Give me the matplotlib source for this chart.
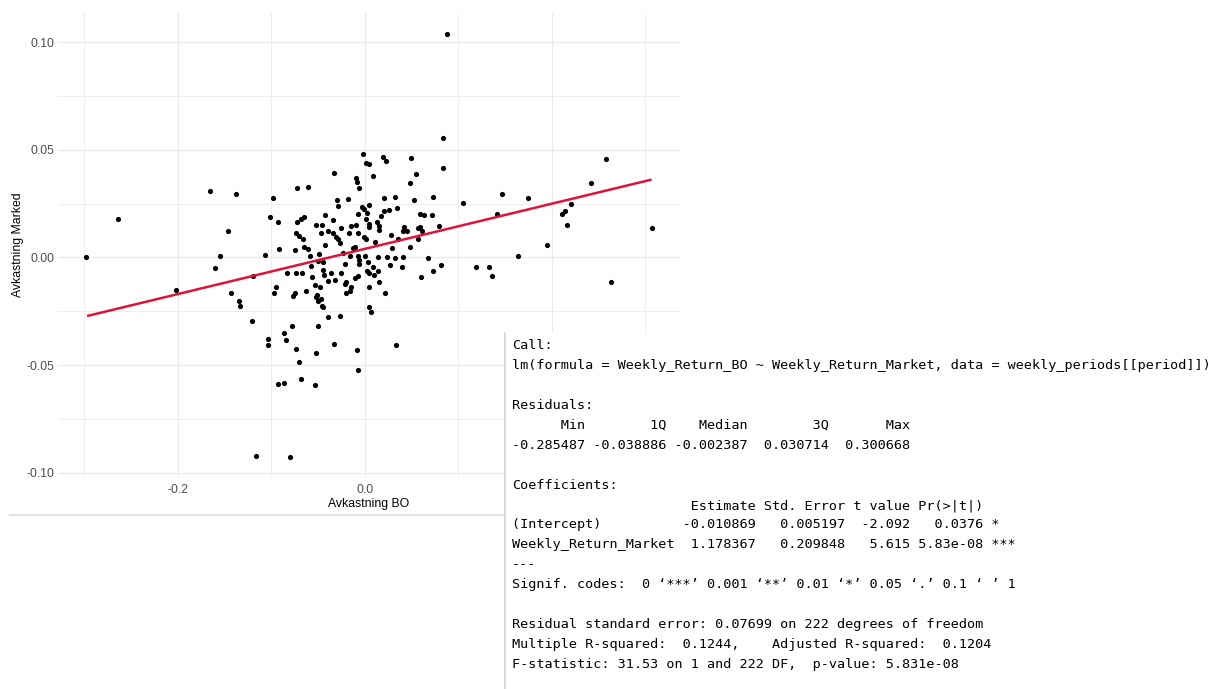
import matplotlib
matplotlib.use("Agg")
import matplotlib.pyplot as plt
from matplotlib.patches import Rectangle
from matplotlib.lines import Line2D

# ---------------- data ----------------
bo = [-0.298, -0.264, -0.202, -0.165, -0.138, -0.146, -0.155, -0.160, -0.119, -0.143,
      -0.134, -0.133, -0.121, -0.104, -0.103, -0.093, -0.116,
      -0.083, -0.074, -0.067, -0.056, -0.044, -0.036, -0.025, -0.039, -0.032, -0.053,
      -0.048, -0.063, -0.075, -0.077, -0.095, -0.097, -0.051, -0.052, -0.047, -0.050,
      -0.046, -0.045, -0.020, -0.021, -0.015, -0.016, -0.020, -0.010, -0.007, 0.002,
      0.005, 0.014, 0.010, 0.015, 0.004, 0.022, 0.004, 0.007, -0.039, -0.027,
      -0.050, -0.078, -0.086, -0.084, -0.074, -0.033, -0.008, 0.033, -0.052, -0.070,
      -0.007, -0.086, -0.068, -0.053, -0.080,
      -0.002, 0.020, 0.023, 0.001, 0.005, -0.033, 0.009, -0.009, -0.008, -0.072,
      -0.061, -0.006, -0.098, -0.030, -0.029, -0.018, 0.021, 0.032, -0.003, 0.004,
      -0.001, -0.043, -0.007, 0.002, 0.021, 0.026, 0.034, -0.101, -0.093, -0.073,
      -0.068, -0.065, -0.034, 0.001, 0.013, 0.017, -0.052, -0.046, -0.025, -0.015,
      -0.009, 0.004, 0.005, 0.015, 0.015, -0.074, -0.070, -0.066, -0.047, -0.039,
      -0.034, -0.031, -0.029, -0.017, -0.007, -0.001, 0.001, 0.028, 0.036, -0.043,
      -0.027, 0.011, -0.092, -0.075, -0.065, -0.061, -0.013, -0.011, 0.029, -0.107,
      -0.059, -0.049, -0.023, -0.016, -0.007, 0.000, 0.014, 0.024, 0.032, -0.050,
      -0.058, -0.045, -0.021, -0.006, -0.006, 0.003, 0.009, 0.027, -0.045,
      0.084, 0.049, 0.084, 0.055, 0.048, 0.053, 0.073, 0.105, 0.147, 0.059,
      0.063, 0.072, 0.141, 0.042, 0.041, 0.045, 0.057, 0.059, 0.061, 0.079,
      0.057, 0.048, 0.041, 0.068, 0.164, 0.040, 0.060, 0.073, 0.082, 0.119,
      0.133, 0.136,
      0.174, 0.258, 0.242, 0.220, 0.214, 0.211, 0.216, 0.195, 0.307, 0.263,
      0.088]

marked = [0.0000, 0.0178, -0.0153, 0.0310, 0.0294, 0.0125, 0.0005, -0.0048, -0.0086, -0.0164,
          -0.0201, -0.0224, -0.0295, -0.0381, -0.0407, -0.0590, -0.0922,
          -0.0072, -0.0072, -0.0072, -0.0091, -0.0082, -0.0072, -0.0070, -0.0110, -0.0104, -0.0130,
          -0.0137, -0.0155, -0.0164, -0.0181, -0.0139, -0.0164, -0.0172, -0.0184, -0.0193, -0.0200,
          -0.0224, -0.0230, -0.0114, -0.0123, -0.0137, -0.0158, -0.0165, -0.0097, -0.0088, -0.0065,
          -0.0070, -0.0062, -0.0082, -0.0116, -0.0137, -0.0165, -0.0230, -0.0255, -0.0277, -0.0272,
          -0.0318, -0.0318, -0.0350, -0.0383, -0.0424, -0.0404, -0.0430, -0.0405, -0.0444, -0.0487,
          -0.0525, -0.0582, -0.0565, -0.0591, -0.0927,
          0.0481, 0.0469, 0.0449, 0.0440, 0.0436, 0.0392, 0.0381, 0.0369, 0.0351, 0.0324,
          0.0328, 0.0325, 0.0277, 0.0266, 0.0241, 0.0273, 0.0277, 0.0280, 0.0235, 0.0245,
          0.0226, 0.0198, 0.0201, 0.0206, 0.0217, 0.0221, 0.0229, 0.0190, 0.0167, 0.0166,
          0.0178, 0.0186, 0.0174, 0.0178, 0.0164, 0.0194, 0.0152, 0.0153, 0.0135, 0.0147,
          0.0149, 0.0155, 0.0141, 0.0146, 0.0129, 0.0116, 0.0101, 0.0088, 0.0113, 0.0123,
          0.0113, 0.0095, 0.0087, 0.0113, 0.0113, 0.0095, 0.0088, 0.0104, 0.0088, 0.0060,
          0.0067, 0.0070, 0.0040, 0.0036, 0.0048, 0.0039, 0.0044, 0.0048, 0.0044, 0.0011,
          0.0005, 0.0016, 0.0022, 0.0008, 0.0005, 0.0009, 0.0003, 0.0000, -0.0001, -0.0014,
          -0.0039, -0.0019, -0.0028, -0.0011, -0.0031, -0.0023, -0.0042, -0.0034, -0.0057,
          0.0557, 0.0461, 0.0416, 0.0389, 0.0347, 0.0265, 0.0282, 0.0251, 0.0297, 0.0201,
          0.0197, 0.0197, 0.0200, 0.0141, 0.0124, 0.0121, 0.0135, 0.0143, 0.0121, 0.0146,
          0.0084, 0.0050, 0.0002, -0.0001, 0.0005, -0.0042, -0.0091, -0.0065, -0.0035, -0.0046,
          -0.0046, -0.0086,
          0.0277, 0.0458, 0.0344, 0.0248, 0.0214, 0.0201, 0.0153, 0.0059, 0.0135, -0.0116,
          0.1040]

fit_x = [-0.297, 0.3066]
fit_y = [-0.0272, 0.0362]

x_major = [-0.2, 0.0, 0.2]
x_major_labels = ["-0.2", "0.0", "0.2"]
x_minor = [-0.3, -0.1, 0.1, 0.3]
y_major = [-0.10, -0.05, 0.0, 0.05, 0.10]
y_major_labels = ["-0.10", "-0.05", "0.00", "0.05", "0.10"]
y_minor = [-0.075, -0.025, 0.025, 0.075]

x_title = "Avkastning BO"
y_title = "Avkastning Marked"

summary_lines = [
    "Call:",
    "lm(formula = Weekly_Return_BO ~ Weekly_Return_Market, data = weekly_periods[[period]])",
    "",
    "Residuals:",
    "      Min        1Q    Median        3Q       Max",
    "-0.285487 -0.038886 -0.002387  0.030714  0.300668",
    "",
    "Coefficients:",
    "                      Estimate Std. Error t value Pr(>|t|)",
    "(Intercept)          -0.010869   0.005197  -2.092   0.0376 *",
    "Weekly_Return_Market  1.178367   0.209848   5.615 5.83e-08 ***",
    "---",
    "Signif. codes:  0 \u2018***\u2019 0.001 \u2018**\u2019 0.01 \u2018*\u2019 0.05 \u2018.\u2019 0.1 \u2018 \u2019 1",
    "",
    "Residual standard error: 0.07699 on 222 degrees of freedom",
    "Multiple R-squared:  0.1244,    Adjusted R-squared:  0.1204",
    "F-statistic: 31.53 on 1 and 222 DF,  p-value: 5.831e-08",
]

# ---------------- figure ----------------
W, H = 1218, 689
fig = plt.figure(figsize=(W / 100, H / 100), dpi=100)
fig.patch.set_facecolor("white")

def fx(px):
    return px / W

def fy(py):
    return 1 - py / H

left, right, top, bottom = 58, 680, 12.6, 477
ax = fig.add_axes([fx(left), fy(bottom), (right - left) / W, (bottom - top) / H])
ax.set_facecolor("white")
for s in ax.spines.values():
    s.set_visible(False)

ax.set_xlim(-0.328, 0.337)
ax.set_ylim(-0.102, 0.1138)

ax.set_xticks(x_major)
ax.set_xticklabels(x_major_labels)
ax.set_xticks(x_minor, minor=True)
ax.set_yticks(y_major)
ax.set_yticklabels(y_major_labels)
ax.set_yticks(y_minor, minor=True)
ax.tick_params(which="both", length=0)
ax.tick_params(axis="x", which="major", pad=5, labelsize=8.8, labelcolor="#4D4D4D")
ax.tick_params(axis="y", which="major", pad=2.5, labelsize=8.8, labelcolor="#4D4D4D")
for lab in ax.get_xticklabels() + ax.get_yticklabels():
    lab.set_fontfamily("Liberation Sans")
# the 0.2 tick label lies under the regression summary box in the reference
ax.get_xticklabels()[2].set_visible(False)

ax.grid(True, which="major", color="#EBEBEB", linewidth=1.0)
ax.grid(True, which="minor", color="#EBEBEB", linewidth=0.6)
ax.set_axisbelow(True)

ax.scatter(bo, marked, s=14, color="black", linewidths=0, zorder=3)
ax.plot(fit_x, fit_y, color="#DC143C", linewidth=1.8, zorder=4, solid_capstyle="butt")

fig.text(fx((left + right) / 2), fy(503.5), x_title, ha="center", va="center",
         fontsize=8.8, family="Liberation Sans", color="black")
fig.text(fx(18), fy((top + bottom) / 2), y_title, ha="center", va="center",
         rotation=90, fontsize=8.8, family="Liberation Sans", color="black")

# bottom border line of the plot screenshot
fig.add_artist(Line2D([fx(10), fx(505)], [fy(515), fy(515)], transform=fig.transFigure,
                      color="#E3E3E3", linewidth=1.6, zorder=5))

# regression summary box
fig.add_artist(Rectangle((fx(504), 0), 1 - fx(504), fy(333), transform=fig.transFigure,
                         facecolor="white", edgecolor="none", zorder=10))
fig.add_artist(Line2D([fx(504.5), fx(504.5)], [fy(333), 0], transform=fig.transFigure,
                      color="#D6D6D6", linewidth=1.2, zorder=11))

for i, line in enumerate(summary_lines):
    if not line:
        continue
    baseline = round(349 + 19.94 * i)
    fig.text(fx(512), fy(baseline), line, ha="left", va="baseline",
             fontsize=9.7, family="DejaVu Sans Mono", color="black", zorder=12)

fig.savefig("out.png", dpi=100, facecolor="white")
